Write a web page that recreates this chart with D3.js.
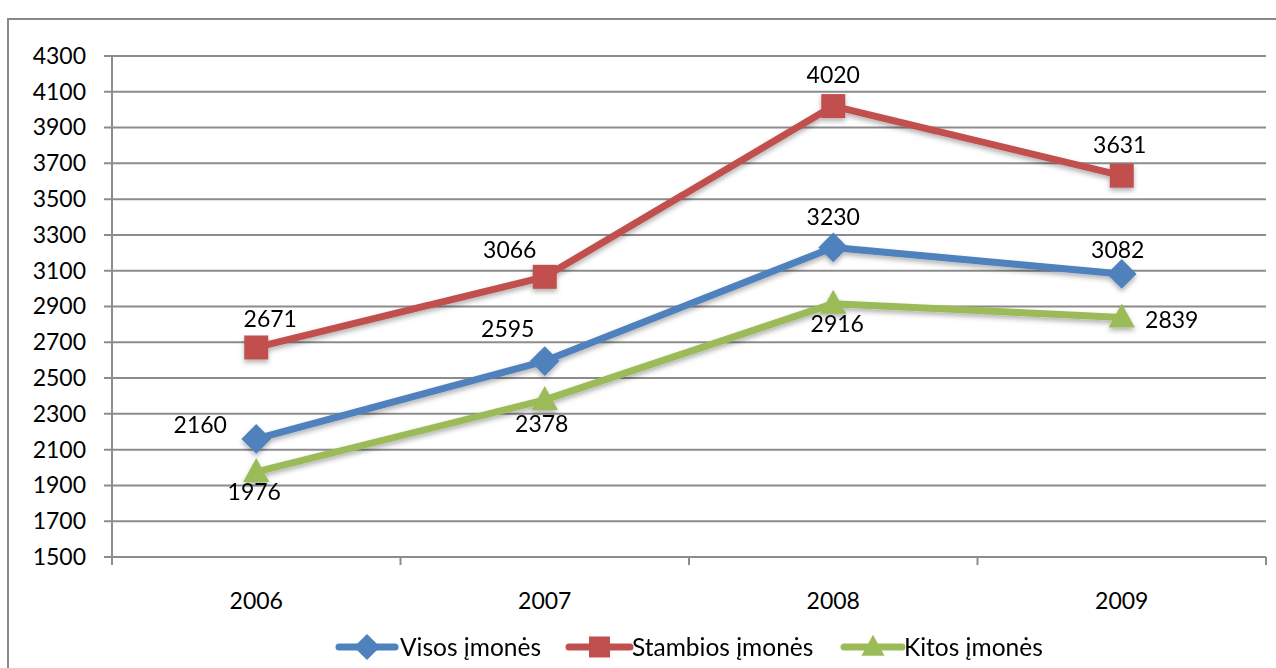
<!DOCTYPE html>
<html>
<head>
<meta charset="utf-8">
<script src="https://cdn.jsdelivr.net/npm/d3@7"></script>
<style>
  body { margin: 0; background: #fff; }
  svg { display: block; font-family: Lato, 'Open Sans', sans-serif; }
</style>
</head>
<body>
<div id="chart"></div>
<script>
const years = ['2006', '2007', '2008', '2009']
const yTicks = [1500, 1700, 1900, 2100, 2300, 2500, 2700, 2900, 3100, 3300, 3500, 3700, 3900, 4100, 4300]
const visos = [2160, 2595, 3230, 3082]
const stambios = [2671, 3066, 4020, 3631]
const kitos = [1976, 2378, 2916, 2839]
const seriesNames = ['Visos įmonės', 'Stambios įmonės', 'Kitos įmonės']

// label offsets from the point (dx, dy), placed like the original
const labelOffsets = [
    [[-56, -14], [-37, -32], [0, -31], [-4, -24]],
    [[14, -29], [-35, -27], [0, -31], [-2, -31]],
    [[-2, 20], [-3, 24], [4, 20], [50, 3]]
]

const width = 1276
const height = 668
const margin = { left: 112, right: 10, top: 56, bottom: 111 }

const svg = d3.select('#chart').append('svg')
    .attr('width', width)
    .attr('height', height)

const defs = svg.append('defs')
const shadow = defs.append('filter').attr('id', 'shadow')
    .attr('x', '-50%').attr('y', '-50%').attr('width', '200%').attr('height', '200%')
shadow.append('feDropShadow')
    .attr('dx', 0).attr('dy', 3).attr('stdDeviation', 2.5)
    .attr('flood-color', '#000').attr('flood-opacity', 0.3)

// outer frame
svg.append('rect')
    .attr('x', 8).attr('y', 19)
    .attr('width', 1300).attr('height', 700)
    .attr('fill', 'none').attr('stroke', '#898989').attr('stroke-width', 2)

const x = d3.scaleBand().domain(years).range([margin.left, 1266])
const y = d3.scaleLinear().domain([1500, 4300]).range([557, 56])

// gridlines
svg.append('g').selectAll('line')
    .data(yTicks)
    .enter().append('line')
    .attr('x1', margin.left - 8).attr('x2', 1266)
    .attr('y1', d => y(d)).attr('y2', d => y(d))
    .attr('stroke', '#8c8c8c').attr('stroke-width', 2)

// y axis
const yAxis = svg.append('g')
    .attr('transform', 'translate(' + margin.left + ',0)')
    .call(d3.axisLeft(y).tickValues(yTicks).tickSize(0).tickPadding(26).tickFormat(d3.format('d')))
yAxis.select('.domain').remove()
yAxis.selectAll('text').attr('font-size', 23).attr('fill', '#000').attr('font-family', 'Lato, sans-serif')
svg.append('line')
    .attr('x1', margin.left).attr('x2', margin.left)
    .attr('y1', y(4300)).attr('y2', 565)
    .attr('stroke', '#8c8c8c').attr('stroke-width', 2)

// x axis ticks between categories
const bounds = years.map(d => x(d)).concat([x(years[years.length - 1]) + x.bandwidth()])
svg.append('g').selectAll('line')
    .data(bounds)
    .enter().append('line')
    .attr('x1', d => d).attr('x2', d => d)
    .attr('y1', y(1500)).attr('y2', 565)
    .attr('stroke', '#8c8c8c').attr('stroke-width', 2)

svg.append('g').selectAll('text')
    .data(years)
    .enter().append('text')
    .attr('x', d => x(d) + x.bandwidth() / 2)
    .attr('y', 609)
    .attr('text-anchor', 'middle')
    .attr('font-size', 23)
    .text(d => d)

const colors = ['#4f81bd', '#c0504d', '#9bbb59']
const allSeries = [visos, stambios, kitos]
const cx = (i) => x(years[i]) + x.bandwidth() / 2

const line = d3.line()
    .x((d, i) => cx(i))
    .y(d => y(d))

const marker = (sel, k, size) => {
    if (k === 0) {
        sel.append('path').attr('d', d3.symbol(d3.symbolDiamond2, size * size * 0.9)())
            .attr('fill', colors[k])
    } else if (k === 1) {
        sel.append('rect')
            .attr('x', -size / 2).attr('y', -size / 2)
            .attr('width', size).attr('height', size)
            .attr('fill', colors[k])
    } else {
        sel.append('path')
            .attr('d', 'M0,' + (-size * 0.58) + 'L' + (size * 0.55) + ',' + (size * 0.42) + 'L' + (-size * 0.55) + ',' + (size * 0.42) + 'Z')
            .attr('fill', colors[k])
    }
}

allSeries.forEach((vals, k) => {
    const g = svg.append('g').attr('filter', 'url(#shadow)')
    g.append('path')
        .datum(vals)
        .attr('d', line)
        .attr('fill', 'none')
        .attr('stroke', colors[k])
        .attr('stroke-width', 7)
        .attr('stroke-linejoin', 'round')
        .attr('stroke-linecap', 'round')
    vals.forEach((v, i) => {
        const m = g.append('g').attr('transform', 'translate(' + cx(i) + ',' + y(v) + ')')
        marker(m, k, k === 0 ? 25 : 24)
    })
})

// data labels
allSeries.forEach((vals, k) => {
    svg.append('g').selectAll('text')
        .data(vals)
        .enter().append('text')
        .attr('x', (d, i) => cx(i) + labelOffsets[k][i][0])
        .attr('y', (d, i) => y(d) + labelOffsets[k][i][1])
        .attr('dy', '0.35em')
        .attr('text-anchor', 'middle')
        .attr('font-size', 23)
        .text(d => d)
})

// legend
const legendItems = [
    { x0: 339, x1: 395, tx: 400 },
    { x0: 569, x1: 630, tx: 632 },
    { x0: 844, x1: 902, tx: 904 }
]
const legend = svg.append('g')
legendItems.forEach((it, k) => {
    legend.append('line')
        .attr('x1', it.x0).attr('x2', it.x1)
        .attr('y1', 647).attr('y2', 647)
        .attr('stroke', colors[k]).attr('stroke-width', 7)
        .attr('stroke-linecap', 'round')
    const m = legend.append('g').attr('transform', 'translate(' + ((it.x0 + it.x1) / 2) + ',647)')
    marker(m, k, k === 0 ? 22 : 21)
    legend.append('text')
        .attr('x', it.tx).attr('y', 647)
        .attr('dy', '0.35em')
        .attr('font-size', 24.5)
        .text(seriesNames[k])
})
</script>
</body>
</html>
